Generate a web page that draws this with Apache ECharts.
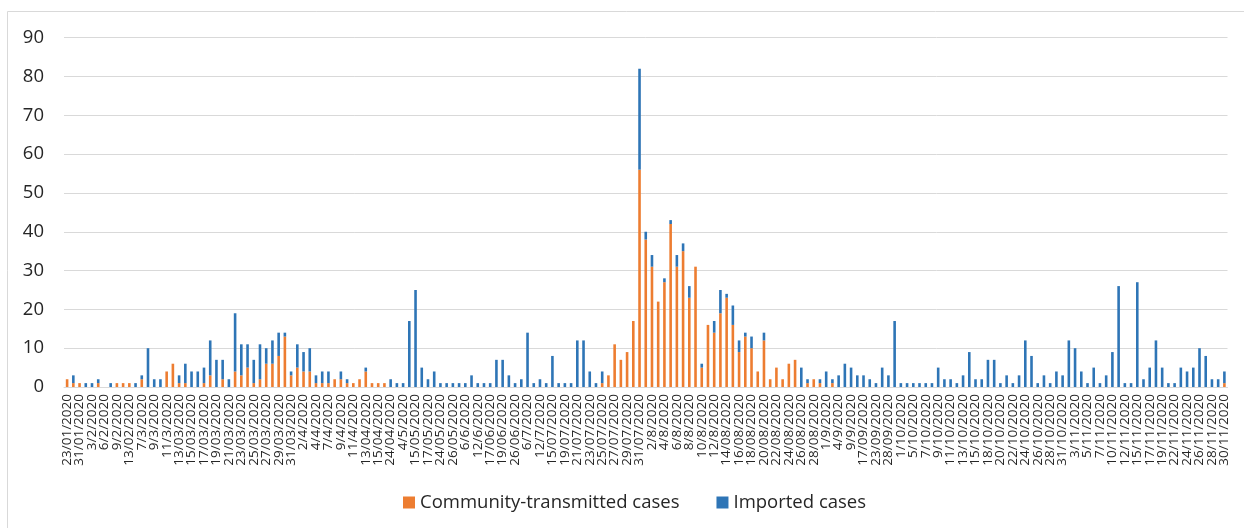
<!DOCTYPE html>
<html>
<head>
<meta charset="utf-8">
<script src="https://cdn.jsdelivr.net/npm/echarts@6/dist/echarts.min.js"></script>
<style>
  html, body { margin: 0; padding: 0; background: #ffffff; }
  #chart { width: 1244px; height: 528px; }
</style>
</head>
<body>
<div id="chart"></div>
<script>
// Reported dates (one category per reporting day)
const dates = [
  '23/01/2020','30/01/2020','31/01/2020','1/2/2020','3/2/2020','4/2/2020','6/2/2020','7/2/2020','9/2/2020','10/2/2020',
  '13/02/2020','6/3/2020','7/3/2020','8/3/2020','9/3/2020','10/3/2020','11/3/2020','12/3/2020','13/03/2020','14/03/2020',
  '15/03/2020','16/03/2020','17/03/2020','18/03/2020','19/03/2020','20/03/2020','21/03/2020','22/03/2020','23/03/2020','24/03/2020',
  '25/03/2020','26/03/2020','27/03/2020','28/03/2020','29/03/2020','30/03/2020','31/03/2020','1/4/2020','2/4/2020','3/4/2020',
  '4/4/2020','5/4/2020','7/4/2020','8/4/2020','9/4/2020','10/4/2020','11/4/2020','12/4/2020','13/04/2020','14/04/2020',
  '15/04/2020','22/04/2020','24/04/2020','1/5/2020','4/5/2020','14/05/2020','15/05/2020','16/05/2020','17/05/2020','23/05/2020',
  '24/05/2020','25/05/2020','26/05/2020','3/6/2020','6/6/2020','10/6/2020','12/6/2020','16/06/2020','17/06/2020','18/06/2020',
  '19/06/2020','22/06/2020','26/06/2020','4/7/2020','6/7/2020','9/7/2020','12/7/2020','13/07/2020','15/07/2020','16/07/2020',
  '19/07/2020','20/07/2020','21/07/2020','22/07/2020','23/07/2020','24/07/2020','25/07/2020','26/07/2020','27/07/2020','28/07/2020',
  '29/07/2020','30/07/2020','31/07/2020','1/8/2020','2/8/2020','3/8/2020','4/8/2020','5/8/2020','6/8/2020','7/8/2020',
  '8/8/2020','9/8/2020','10/8/2020','11/8/2020','12/8/2020','13/08/2020','14/08/2020','15/08/2020','16/08/2020','17/08/2020',
  '18/08/2020','19/08/2020','20/08/2020','21/08/2020','22/08/2020','23/08/2020','24/08/2020','25/08/2020','26/08/2020','27/08/2020',
  '28/08/2020','31/08/2020','1/9/2020','3/9/2020','4/9/2020','8/9/2020','9/9/2020','14/09/2020','17/09/2020','21/09/2020',
  '23/09/2020','27/09/2020','28/09/2020','30/09/2020','1/10/2020','2/10/2020','5/10/2020','6/10/2020','7/10/2020','8/10/2020',
  '9/10/2020','10/10/2020','11/10/2020','12/10/2020','13/10/2020','14/10/2020','15/10/2020','17/10/2020','18/10/2020','19/10/2020',
  '20/10/2020','21/10/2020','22/10/2020','23/10/2020','24/10/2020','25/10/2020','26/10/2020','27/10/2020','28/10/2020','30/10/2020',
  '31/10/2020','2/11/2020','3/11/2020','4/11/2020','5/11/2020','6/11/2020','7/11/2020','9/11/2020','10/11/2020','11/11/2020',
  '12/11/2020','14/11/2020','15/11/2020','16/11/2020','17/11/2020','18/11/2020','19/11/2020','20/11/2020','22/11/2020','23/11/2020',
  '24/11/2020','25/11/2020','26/11/2020','27/11/2020','28/11/2020','29/11/2020','30/11/2020'
];

// Community-transmitted cases per day
const community = [
  2,1,1,0,0,1,0,0,1,1,
  1,0,2,0,0,0,4,6,1,1,
  0,0,1,3,0,2,0,4,3,5,
  1,2,6,6,8,13,3,5,4,4,
  1,1,1,2,2,1,1,2,4,1,
  1,1,0,0,0,0,0,0,0,0,
  0,0,0,0,0,0,0,0,0,0,
  0,0,0,0,0,0,0,0,0,0,
  0,0,0,0,0,0,1,3,11,7,
  9,17,56,38,31,22,27,42,31,35,
  23,31,5,16,14,19,23,16,9,13,
  10,4,12,2,5,2,6,7,0,1,
  2,1,0,1,0,0,0,0,0,0,
  0,0,0,0,0,0,0,0,0,0,
  0,0,0,0,0,0,0,0,0,0,
  0,0,0,0,0,0,0,0,0,0,
  0,0,0,0,0,0,0,0,0,0,
  0,0,0,0,0,0,0,0,0,0,
  0,0,0,0,0,0,1
];

// Imported cases per day
const imported = [
  0,2,0,1,1,1,0,1,0,0,
  0,1,1,10,2,2,0,0,2,5,
  4,4,4,9,7,5,2,15,8,6,
  6,9,4,6,6,1,1,6,5,6,
  2,3,3,0,2,1,0,0,1,0,
  0,0,2,1,1,17,25,5,2,4,
  1,1,1,1,1,3,1,1,1,7,
  7,3,1,2,14,1,2,1,8,1,
  1,1,12,12,4,1,3,0,0,0,
  0,0,26,2,3,0,1,1,3,2,
  3,0,1,0,3,6,1,5,3,1,
  3,0,2,0,0,0,0,0,5,1,
  0,1,4,1,3,6,5,3,3,2,
  1,5,3,17,1,1,1,1,1,1,
  5,2,2,1,3,9,2,2,7,7,
  1,3,1,3,12,8,1,3,1,4,
  3,12,10,4,1,5,1,3,9,26,
  1,1,27,2,5,12,5,1,1,5,
  4,5,10,8,2,2,3
];

const yTicks = { min: 0, max: 90, interval: 10 };

const chart = echarts.init(document.getElementById('chart'), null, { renderer: 'canvas' });

const fontFamily = '"Open Sans", "Liberation Sans", sans-serif';

chart.setOption({
  backgroundColor: '#ffffff',
  animation: false,
  graphic: [{
    type: 'rect',
    silent: true,
    shape: { x: 7.5, y: 11.5, width: 1300, height: 600 },
    style: { fill: 'none', stroke: '#d9d9d9', lineWidth: 1 }
  }],
  grid: { left: 64, right: 16.5, top: 37.7, bottom: 141 },
  legend: {
    left: 403,
    top: 493,
    padding: 0,
    itemWidth: 12,
    itemHeight: 12,
    itemGap: 37,
    icon: 'rect',
    textStyle: { fontFamily: fontFamily, fontSize: 18.5, color: '#262626' },
    data: ['Community-transmitted cases', 'Imported cases']
  },
  xAxis: {
    type: 'category',
    data: dates,
    axisLine: { show: true, lineStyle: { color: '#d9d9d9', width: 1 } },
    axisTick: { show: false },
    axisLabel: {
      // every category gets a slot; only every second date is printed
      interval: 0,
      formatter: (value, index) => (index % 2 === 0 ? value : ''),
      rotate: 90,
      margin: 7,
      hideOverlap: false,
      fontFamily: fontFamily,
      fontSize: 13.5,
      color: '#262626'
    }
  },
  yAxis: {
    type: 'value',
    min: yTicks.min,
    max: yTicks.max,
    interval: yTicks.interval,
    axisLine: { show: false },
    axisTick: { show: false },
    splitLine: { lineStyle: { color: '#d9d9d9', width: 1 } },
    axisLabel: {
      margin: 20,
      fontFamily: fontFamily,
      fontSize: 18.5,
      color: '#262626'
    }
  },
  series: [
    {
      name: 'Community-transmitted cases',
      type: 'bar',
      stack: 'cases',
      data: community,
      barWidth: 2.6,
      itemStyle: { color: '#ED7D31' }
    },
    {
      name: 'Imported cases',
      type: 'bar',
      stack: 'cases',
      data: imported,
      barWidth: 2.6,
      itemStyle: { color: '#2E75B6' }
    }
  ]
});
</script>
</body>
</html>
